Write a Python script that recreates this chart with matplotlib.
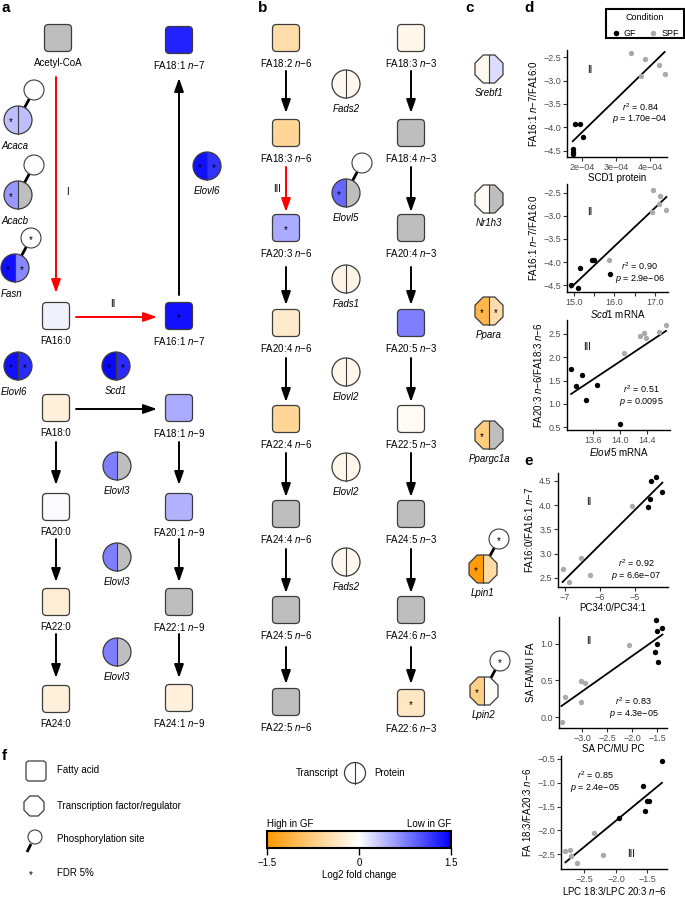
import numpy as np
import matplotlib
matplotlib.use('Agg')
import matplotlib.pyplot as plt
from matplotlib.patches import FancyBboxPatch, Wedge, Circle, Polygon, Rectangle
from matplotlib.colors import LinearSegmentedColormap, Normalize
from matplotlib.cm import ScalarMappable

plt.rcParams['font.family'] = ['Liberation Sans', 'DejaVu Sans']
plt.rcParams['mathtext.fontset'] = 'custom'
plt.rcParams['mathtext.rm'] = 'Liberation Sans'
plt.rcParams['mathtext.it'] = 'Liberation Sans:italic'
plt.rcParams['mathtext.bf'] = 'Liberation Sans:bold'

nan = np.nan
FS = 7  # diagram text size

# ---- data: log2 fold change (nan = not measured), FDR 5% flags ----
# panel a fatty acids
fa_a_names = ['Acetyl-CoA', 'FA18:1 n-7', 'FA16:0', 'FA16:1 n-7', 'FA18:0', 'FA18:1 n-9',
              'FA20:0', 'FA20:1 n-9', 'FA22:0', 'FA22:1 n-9', 'FA24:0', 'FA24:1 n-9']
fa_a_lfc = [nan, 1.3, 0.08, 1.4, -0.2, 0.5, 0.03, 0.45, -0.25, nan, -0.2, -0.2]
fa_a_fdr = [0, 0, 0, 1, 0, 0, 0, 0, 0, 0, 0, 0]

# panel b fatty acids
fa_b_names = ['FA18:2 n-6', 'FA18:3 n-3', 'FA18:3 n-6', 'FA18:4 n-3', 'FA20:3 n-6', 'FA20:4 n-3',
              'FA20:4 n-6', 'FA20:5 n-3', 'FA22:4 n-6', 'FA22:5 n-3', 'FA24:4 n-6', 'FA24:5 n-3',
              'FA24:5 n-6', 'FA24:6 n-3', 'FA22:5 n-6', 'FA22:6 n-3']
fa_b_lfc = [-0.5, -0.12, -0.6, nan, 0.5, nan, -0.3, 0.75, -0.6, -0.06, nan, nan, nan, nan, nan, -0.35]
fa_b_fdr = [0, 0, 0, 0, 1, 0, 0, 0, 0, 0, 0, 0, 0, 0, 0, 1]

# enzymes (transcript | protein, phosphosite)
enz_names = ['Acaca', 'Acacb', 'Fasn', 'Elovl6', 'Elovl6', 'Scd1', 'Elovl3', 'Elovl3', 'Elovl3',
             'Fads2', 'Elovl5', 'Fads1', 'Elovl2', 'Elovl2', 'Fads2']
enz_rna = [0.38, 0.6, 1.4, 1.4, 1.4, 1.45, 0.75, 0.75, 0.75, -0.1, 0.9, -0.15, -0.12, -0.12, -0.1]
enz_prot = [0.38, nan, 0.7, 1.2, 1.25, 1.25, nan, nan, nan, -0.1, nan, -0.15, -0.12, -0.12, -0.1]
enz_rna_fdr = [1, 1, 1, 1, 1, 1, 0, 0, 0, 0, 1, 0, 0, 0, 0]
enz_prot_fdr = [0, 0, 1, 1, 1, 1, 0, 0, 0, 0, 0, 0, 0, 0, 0]
enz_phos = [0.0, 0.0, 0.0, nan, nan, nan, nan, nan, nan, nan, 0.0, nan, nan, nan, nan]
enz_phos_fdr = [0, 0, 1, 0, 0, 0, 0, 0, 0, 0, 0, 0, 0, 0, 0]

# transcription factors / regulators
reg_names = ['Srebf1', 'Nr1h3', 'Ppara', 'Ppargc1a', 'Lpin1', 'Lpin2']
reg_rna = [-0.1, -0.06, -1.05, -0.75, -1.45, -0.7]
reg_prot = [0.2, nan, -0.5, nan, -0.55, -0.05]
reg_rna_fdr = [0, 0, 1, 1, 1, 1]
reg_prot_fdr = [0, 0, 1, 0, 0, 0]
reg_phos = [nan, nan, nan, nan, 0.0, 0.0]
reg_phos_fdr = [0, 0, 0, 0, 1, 1]

# scatter panels (GF black, SPF grey)
d1_gf_x = [1.79e-4, 1.95e-4, 2.04e-4, 1.73e-4, 1.73e-4, 1.74e-4]
d1_gf_y = [-3.93, -3.93, -4.21, -4.46, -4.53, -4.56]
d1_spf_x = [3.44e-4, 3.85e-4, 4.27e-4, 4.43e-4, 3.73e-4]
d1_spf_y = [-2.41, -2.54, -2.68, -2.86, -2.90]

d2_gf_x = [14.93, 15.10, 15.16, 15.45, 15.50, 15.88]
d2_gf_y = [-4.49, -4.57, -4.12, -3.96, -3.96, -4.25]
d2_spf_x = [15.86, 16.95, 17.13, 16.93, 17.28, 17.10]
d2_spf_y = [-3.96, -2.43, -2.56, -2.92, -2.88, -2.75]

d3_gf_x = [13.27, 13.35, 13.44, 13.49, 13.65, 14.00]
d3_gf_y = [1.74, 1.39, 1.61, 1.09, 1.41, 0.57]
d3_spf_x = [14.05, 14.30, 14.36, 14.38, 14.58, 14.68]
d3_spf_y = [2.09, 2.45, 2.52, 2.42, 2.54, 2.69]

e1_gf_x = [-4.55, -4.41, -4.57, -4.64, -4.22]
e1_gf_y = [4.49, 4.57, 4.12, 3.95, 4.26]
e1_spf_x = [-5.08, -6.54, -7.07, -6.90, -6.30]
e1_spf_y = [3.98, 2.90, 2.69, 2.42, 2.55]

e2_gf_x = [-1.52, -1.49, -1.39, -1.49, -1.53, -1.47]
e2_gf_y = [1.32, 1.17, 1.21, 1.00, 0.89, 0.75]
e2_spf_x = [-2.05, -3.03, -2.95, -3.35, -3.02, -3.41]
e2_spf_y = [0.98, 0.49, 0.46, 0.27, 0.20, -0.07]

e3_gf_x = [-1.27, -1.57, -1.51, -1.47, -1.54, -1.95]
e3_gf_y = [-0.55, -1.07, -1.38, -1.39, -1.60, -1.73]
e3_spf_x = [-2.35, -2.80, -2.72, -2.71, -2.62, -2.20]
e3_spf_y = [-2.06, -2.44, -2.41, -2.53, -2.68, -2.51]

# ---- layout (pixel positions) ----
fa_a_xy = [(58, 38), (179, 40), (56, 316), (179, 316), (56, 408), (179, 408),
           (56, 507), (179, 507), (56, 602), (179, 602), (56, 699), (179, 698)]
fa_b_xy = [(286, 38), (411, 38), (286, 133), (411, 133), (286, 228), (411, 228),
           (286, 323), (411, 323), (286, 419), (411, 419), (286, 514), (411, 514),
           (286, 610), (411, 610), (286, 702), (411, 703)]
enz_xy = [(18, 120), (18, 195), (15, 268), (207, 166), (18, 366), (116, 366),
          (117, 466), (117, 557), (117, 652), (346, 84), (346, 193), (346, 279),
          (346, 372), (346, 467), (346, 562)]
reg_xy = [(489, 69), (489, 199), (489, 311), (489, 435), (483, 569), (484, 691)]

W, H = 685, 898
GRAY = '#BEBEBE'
EDGE = '#3c3c3c'
cmap = LinearSegmentedColormap.from_list('gf', ['#FF9900', '#FFFFFF', '#0000FF'])
norm = Normalize(-1.5, 1.5)


def col(v):
    return GRAY if np.isnan(v) else cmap(norm(v))


def fmt(s):
    return s.replace(' n-', r' $\mathit{n}$−')


fig = plt.figure(figsize=(6.85, 8.98), dpi=100)
ax0 = fig.add_axes([0, 0, 1, 1])
ax0.set_xlim(0, W)
ax0.set_ylim(H, 0)
ax0.axis('off')


def star(x, y, fs=7):
    ax0.text(x, y + 2, '*', ha='center', va='center', fontsize=fs, zorder=6)


def fa_box(x, y, name, v, sig, s=27):
    ax0.add_patch(FancyBboxPatch((x - s / 2, y - s / 2), s, s, boxstyle='round,pad=0,rounding_size=4',
                                 fc=col(v), ec=EDGE, lw=0.9, zorder=3))
    if sig:
        star(x, y)
    ax0.text(x, y + 25, fmt(name), ha='center', va='center', fontsize=FS)


def phospho(x, y, v, sig, r=14):
    px, py = x + 16, y - 30
    d = np.array([px - x, py - y]); d = d / np.hypot(*d)
    ax0.plot([x + d[0] * r, px - d[0] * 10], [y + d[1] * r, py - d[1] * 10], color='black', lw=2, zorder=2,
             solid_capstyle='butt')
    ax0.add_patch(Circle((px, py), 10, fc=col(v), ec=EDGE, lw=0.8, zorder=3))
    if sig:
        star(px, py)


def enzyme(x, y, name, a, b, sa, sb, ph, sph, r=14):
    ax0.add_patch(Wedge((x, y), r, 90, 270, fc=col(a), ec='none', zorder=3))
    ax0.add_patch(Wedge((x, y), r, 270, 90, fc=col(b), ec='none', zorder=3))
    ax0.add_patch(Circle((x, y), r, fc='none', ec=EDGE, lw=0.9, zorder=4))
    ax0.plot([x, x], [y - r, y + r], color=EDGE, lw=0.8, zorder=4)
    if sa:
        star(x - 7, y)
    if sb:
        star(x + 7, y)
    if not np.isnan(ph):
        phospho(x, y, ph, sph, r)
    if x < 25:
        ax0.text(1, y + 26, name, ha='left', va='center', fontsize=FS, style='italic')
    else:
        ax0.text(x, y + 25, name, ha='center', va='center', fontsize=FS, style='italic')


def octagon(x, y, a):
    R = a / np.cos(np.pi / 8)
    ang = np.pi / 8 + np.arange(8) * np.pi / 4
    return np.c_[x + R * np.cos(ang), y + R * np.sin(ang)]


def regulator(x, y, name, a, b, sa, sb, ph, sph, ap=14):
    v = octagon(x, y, ap)
    left = np.r_[[[x, y + ap]], v[2:6], [[x, y - ap]]]
    right = np.r_[[[x, y - ap]], v[6:8], v[0:2], [[x, y + ap]]]
    ax0.add_patch(Polygon(left, closed=True, fc=col(a), ec='none', zorder=3))
    ax0.add_patch(Polygon(right, closed=True, fc=col(b), ec='none', zorder=3))
    ax0.add_patch(Polygon(v, closed=True, fc='none', ec=EDGE, lw=0.9, zorder=4))
    ax0.plot([x, x], [y - ap, y + ap], color=EDGE, lw=0.8, zorder=4)
    if sa:
        star(x - 7, y)
    if sb:
        star(x + 7, y)
    if not np.isnan(ph):
        phospho(x, y, ph, sph, ap)
    ax0.text(x, y + 24, name, ha='center', va='center', fontsize=FS, style='italic')


def arrow(x0, y0, x1, y1, color='black'):
    ax0.annotate('', xy=(x1, y1), xytext=(x0, y0),
                 arrowprops=dict(arrowstyle='-|>,head_length=0.8,head_width=0.28', color=color,
                                 lw=1.4, shrinkA=0, shrinkB=0, mutation_scale=10))


for n, v, s, (x, y) in zip(fa_a_names, fa_a_lfc, fa_a_fdr, fa_a_xy):
    fa_box(x, y, n, v, s)
for n, v, s, (x, y) in zip(fa_b_names, fa_b_lfc, fa_b_fdr, fa_b_xy):
    fa_box(x, y, n, v, s)
for i, (x, y) in enumerate(enz_xy):
    enzyme(x, y, enz_names[i], enz_rna[i], enz_prot[i], enz_rna_fdr[i], enz_prot_fdr[i],
           enz_phos[i], enz_phos_fdr[i])
for i, (x, y) in enumerate(reg_xy):
    regulator(x, y, reg_names[i], reg_rna[i], reg_prot[i], reg_rna_fdr[i], reg_prot_fdr[i],
              reg_phos[i], reg_phos_fdr[i])

RED = '#FF0000'
# panel a arrows
arrow(56, 77, 56, 293, RED)
arrow(76, 317, 157, 317, RED)
arrow(179, 295, 179, 78)
arrow(76, 409, 157, 409)
for x in (56, 179):
    arrow(x, 442, x, 485)
    arrow(x, 539, x, 582)
    arrow(x, 634, x, 678)
ax0.text(67, 192, 'I', ha='center', va='center', fontsize=FS)
ax0.text(113, 304, 'II', ha='center', va='center', fontsize=FS)
# panel b arrows
for x in (286, 411):
    arrow(x, 71, x, 113)
    arrow(x, 167, x, 212, RED if x == 286 else 'black')
    arrow(x, 267, x, 305)
    arrow(x, 358, x, 402)
    arrow(x, 453, x, 497)
    arrow(x, 549, x, 593)
    arrow(x, 647, x, 684)
ax0.text(277, 189, 'III', ha='center', va='center', fontsize=FS)

# panel letters
for lab, x, y in [('a', 2, 12), ('b', 258, 12), ('c', 465, 12), ('d', 524, 12), ('e', 524, 465), ('f', 2, 760)]:
    ax0.text(x, y, lab, fontsize=11, fontweight='bold', va='baseline')

# condition legend
ax0.add_patch(Rectangle((606, 9), 78, 29, fc='white', ec='black', lw=1.5, zorder=5, clip_on=False))
ax0.text(645, 18, 'Condition', ha='center', va='center', fontsize=6.5, zorder=6)
ax0.scatter([616], [33], s=16, c='black', lw=0, zorder=6)
ax0.text(624, 33, 'GF', ha='left', va='center', fontsize=6.5, zorder=6)
ax0.scatter([653], [33], s=16, c='#AAAAAA', lw=0, zorder=6)
ax0.text(662, 33, 'SPF', ha='left', va='center', fontsize=6.5, zorder=6)

# panel f legend
ax0.add_patch(FancyBboxPatch((26, 761), 20, 20, boxstyle='round,pad=0,rounding_size=3',
                             fc='white', ec=EDGE, lw=0.9))
ax0.text(57, 770, 'Fatty acid', va='center', fontsize=FS)
ax0.add_patch(Polygon(octagon(34, 806, 10), closed=True, fc='white', ec=EDGE, lw=0.9))
ax0.text(57, 806, 'Transcription factor/regulator', va='center', fontsize=FS)
ax0.add_patch(Circle((35, 837), 7, fc='white', ec=EDGE, lw=0.8))
ax0.plot([31, 27], [844, 852], color='black', lw=2, solid_capstyle='butt')
ax0.text(57, 839, 'Phosphorylation site', va='center', fontsize=FS)
ax0.text(31, 875, '*', ha='center', va='center', fontsize=7)
ax0.text(57, 873, 'FDR 5%', va='center', fontsize=FS)

ax0.add_patch(Circle((355, 773), 10.5, fc='white', ec=EDGE, lw=0.9))
ax0.plot([355, 355], [762.5, 783.5], color=EDGE, lw=0.8)
ax0.text(339, 773, 'Transcript', ha='right', va='center', fontsize=FS)
ax0.text(374, 773, 'Protein', ha='left', va='center', fontsize=FS)

ax0.text(267, 824, 'High in GF', ha='left', va='center', fontsize=FS)
ax0.text(451, 824, 'Low in GF', ha='right', va='center', fontsize=FS)
cax = fig.add_axes([267 / W, 1 - 848 / H, 184 / W, 17 / H])
cb = fig.colorbar(ScalarMappable(norm=norm, cmap=cmap), cax=cax, orientation='horizontal')
cb.set_ticks([-1.5, 0, 1.5])
cb.set_ticklabels(['−1.5', '0', '1.5'])
cb.outline.set_linewidth(1.5)
cax.tick_params(length=5, width=1, labelsize=FS, pad=2)
cb.set_label('Log2 fold change', fontsize=FS, labelpad=2)


def scat(box, gx, gy, sx, sy, xlim, ylim, xt, xtl, yt, xlab, ylab, roman, rxy, stats, sxy):
    l, r, t, b = box
    ax = fig.add_axes([l / W, 1 - b / H, (r - l) / W, (b - t) / H])
    ax.scatter(gx, gy, s=15, c='black', lw=0, zorder=3)
    ax.scatter(sx, sy, s=15, c='#AAAAAA', lw=0, zorder=3)
    allx = np.r_[gx, sx]
    ally = np.r_[gy, sy]
    k, c0 = np.polyfit(allx, ally, 1)
    xs = np.array([allx.min(), allx.max()])
    ax.plot(xs, k * xs + c0, color='black', lw=1.3, zorder=2)
    ax.set_xlim(*xlim)
    ax.set_ylim(*ylim)
    ax.set_xticks(xt)
    ax.set_xticklabels(xtl)
    ax.set_yticks(yt)
    ax.set_yticklabels([('%.1f' % v).replace('-', '−') for v in yt])
    for sp in ('top', 'right'):
        ax.spines[sp].set_visible(False)
    for sp in ('left', 'bottom'):
        ax.spines[sp].set_linewidth(1.0)
    ax.tick_params(length=3, width=0.8, labelsize=6.5, labelcolor='#4D4D4D', color='#333333', pad=1.5)
    ax.set_xlabel(xlab, fontsize=7, labelpad=0.5)
    ax.set_ylabel(ylab, fontsize=7, labelpad=3)
    ax.text(rxy[0], rxy[1], roman, transform=ax.transAxes, ha='center', va='center', fontsize=7)
    ax.text(sxy[0], sxy[1], stats, transform=ax.transAxes, ha='center', va='center', fontsize=6.5,
            multialignment='center', linespacing=1.1)
    return ax


scat((567, 667, 50, 157), d1_gf_x, d1_gf_y, d1_spf_x, d1_spf_y, (1.56e-4, 4.5e-4), (-4.63, -2.35),
     [2e-4, 3e-4, 4e-4], ['2e−04', '3e−04', '4e−04'], [-4.5, -4.0, -3.5, -3.0, -2.5],
     'SCD1 protein', r'FA16:1 $\mathit{n}$−7/FA16:0', 'II', (0.23, 0.81),
     '$r^2$ = 0.84\n$p$ = 1.70e−04', (0.73, 0.41))
scat((567, 668, 184, 292), d2_gf_x, d2_gf_y, d2_spf_x, d2_spf_y, (14.83, 17.32), (-4.65, -2.31),
     [15.0, 15.5, 16.0, 16.5, 17.0], ['15.0', '', '16.0', '', '17.0'], [-4.5, -4.0, -3.5, -3.0, -2.5],
     r'$\mathit{Scd1}$ mRNA', r'FA16:1 $\mathit{n}$−7/FA16:0', 'II', (0.23, 0.74),
     '$r^2$ = 0.90\n$p$ = 2.9e−06', (0.72, 0.18))
scat((567, 670, 320, 430), d3_gf_x, d3_gf_y, d3_spf_x, d3_spf_y, (13.21, 14.74), (0.44, 2.80),
     [13.6, 14.0, 14.4], ['13.6', '14.0', '14.4'], [0.5, 1.0, 1.5, 2.0, 2.5],
     r'$\mathit{Elovl5}$ mRNA', r'FA20:3 $\mathit{n}$−6/FA18:3 $\mathit{n}$−6', 'III', (0.19, 0.75),
     '$r^2$ = 0.51\n$p$ = 0.0095', (0.72, 0.31))
scat((558, 668, 473, 587), e1_gf_x, e1_gf_y, e1_spf_x, e1_spf_y, (-7.2, -4.06), (2.31, 4.66),
     [-7, -6, -5], ['−7', '−6', '−5'], [2.5, 3.0, 3.5, 4.0, 4.5],
     'PC34:0/PC34:1', r'FA16:0/FA16:1 $\mathit{n}$−7', 'II', (0.28, 0.75),
     '$r^2$ = 0.92\n$p$ = 6.6e−07', (0.71, 0.15))
scat((559, 667, 617, 728), e2_gf_x, e2_gf_y, e2_spf_x, e2_spf_y, (-3.46, -1.3), (-0.15, 1.365),
     [-3.0, -2.5, -2.0, -1.5], ['−3.0', '−2.5', '−2.0', '−1.5'], [0.0, 0.5, 1.0],
     'SA PC/MU PC', 'SA FA/MU FA', 'II', (0.28, 0.78),
     '$r^2$ = 0.83\n$p$ = 4.3e−05', (0.69, 0.18))
scat((561, 667, 756, 869), e3_gf_x, e3_gf_y, e3_spf_x, e3_spf_y, (-2.87, -1.19), (-2.81, -0.44),
     [-2.5, -2.0, -1.5], ['−2.5', '−2.0', '−1.5'], [-2.5, -2.0, -1.5, -1.0, -0.5],
     r'LPC 18:3/LPC 20:3 $\mathit{n}$−6', r'FA 18:3/FA20:3 $\mathit{n}$−6', 'III', (0.66, 0.13),
     '$r^2$ = 0.85\n$p$ = 2.4e−05', (0.32, 0.77))

fig.savefig('out.png', dpi=100)
